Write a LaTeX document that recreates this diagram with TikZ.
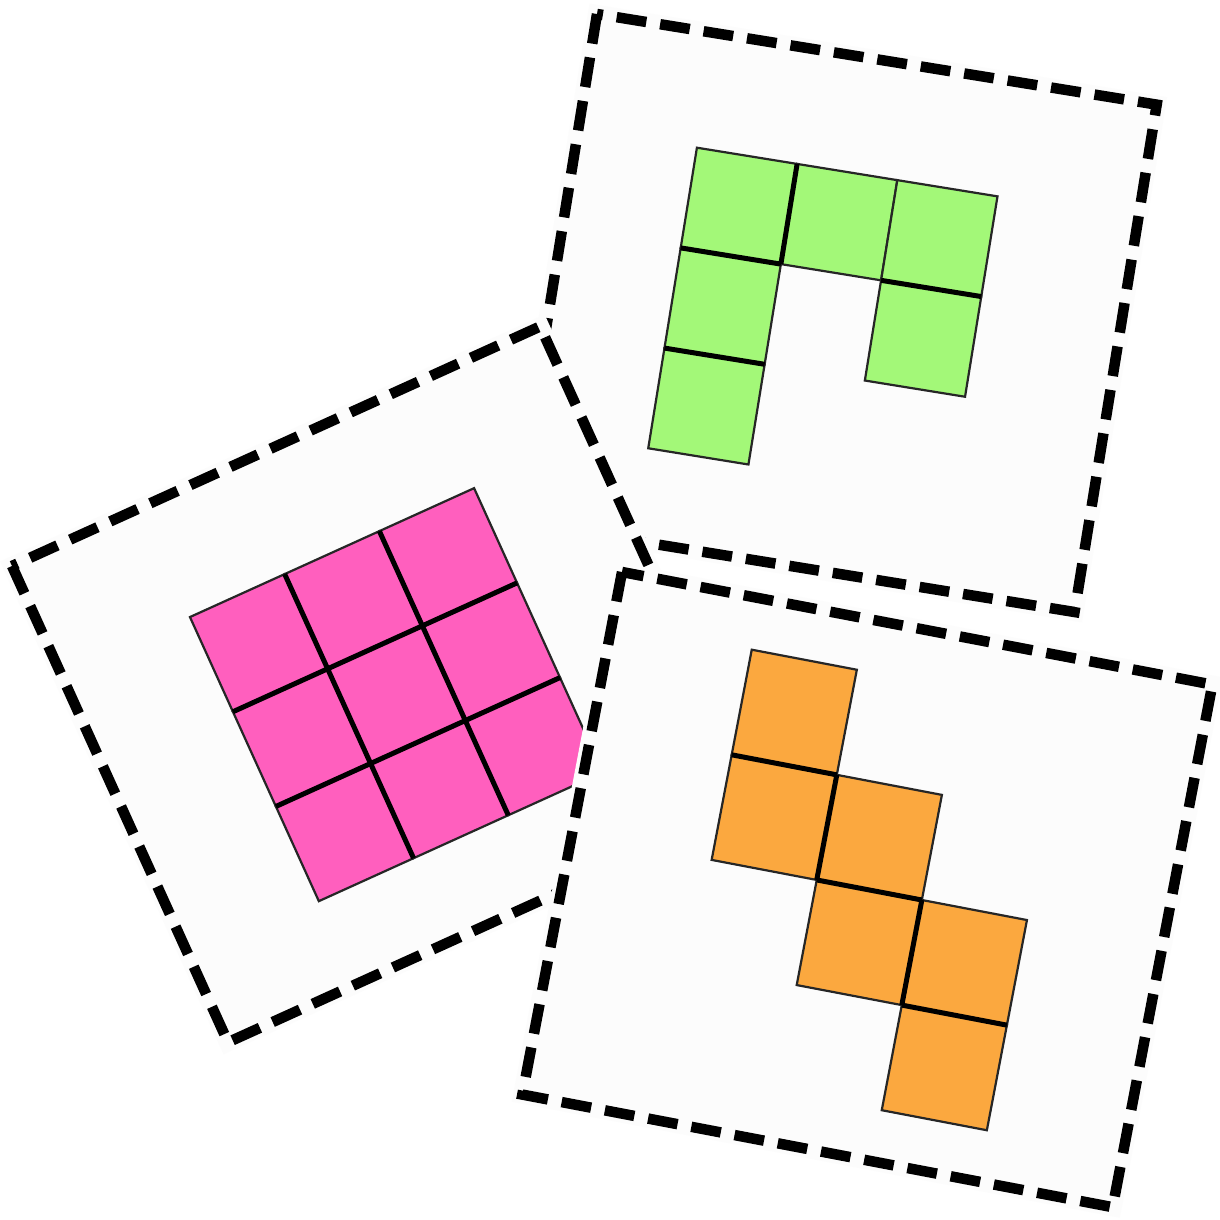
\documentclass[tikz,border=0pt]{standalone}
\definecolor{cardbg}{RGB}{252,252,252}
\definecolor{greenc}{RGB}{163,248,120}
\definecolor{pinkc}{RGB}{255,95,190}
\definecolor{orangec}{RGB}{251,168,63}
\tikzset{
  cardfill/.style={fill=cardbg},
  cardborder/.style={draw=black, line width=10.5pt, dash pattern=on 30pt off 14pt},
  cellsq/.style={draw=black!85, line width=2.2pt},
  seam/.style={draw=black, line width=5pt, line cap=butt},
}
\begin{document}
\begin{tikzpicture}[x=1pt,y=-1pt]
\useasboundingbox (0,0) rectangle (1220,1219);
\fill[white] (0,0) rectangle (1220,1219);

% green card
\begin{scope}[shift={(597,14)}, rotate=-9.2]
  \fill[cardfill] (-9,-9) rectangle (576,523);
  \draw[cardborder] (0,0) rectangle (567,514);
  \begin{scope}[shift={(120,116)}, x=101.5pt, y=-101.5pt]
    \foreach \c/\r in {0/0,1/0,2/0,0/1,2/1,0/2}
      \filldraw[fill=greenc, cellsq] (\c,\r) rectangle ++(1,1);
    \draw[seam] (1,0) -- (1,1);
    \draw[seam] (0,1) -- (1,1);
    \draw[seam] (0,2) -- (1,2);
    \draw[seam] (2,1) -- (3,1);
  \end{scope}
\end{scope}

% pink card
\begin{scope}[shift={(12,566)}, rotate=24.4]
  \fill[cardfill] (-9,-9) rectangle (589,532);
  \draw[cardborder] (0,0) rectangle (580,523);
  \begin{scope}[shift={(141,120)}, x=104pt, y=-104pt]
    \foreach \c in {0,1,2}
      \foreach \r in {0,1,2}
        \filldraw[fill=pinkc, cellsq] (\c,\r) rectangle ++(1,1);
    \draw[seam] (1,0) -- (1,3);
    \draw[seam] (2,0) -- (2,3);
    \draw[seam] (0,1) -- (3,1);
    \draw[seam] (0,2) -- (3,2);
  \end{scope}
\end{scope}

% orange card
\begin{scope}[shift={(622,572)}, rotate=-10.8]
  \fill[cardfill] (-9,-9) rectangle (610,541);
  \draw[cardborder] (0,0) rectangle (601,532);
  \begin{scope}[shift={(142,52)}, x=107pt, y=-107pt]
    \foreach \c/\r in {0/0,0/1,1/1,1/2,2/2,2/3}
      \filldraw[fill=orangec, cellsq] (\c,\r) rectangle ++(1,1);
    \draw[seam] (0,1) -- (1,1);
    \draw[seam] (1,1) -- (1,2);
    \draw[seam] (1,2) -- (2,2);
    \draw[seam] (2,2) -- (2,3);
    \draw[seam] (2,3) -- (3,3);
  \end{scope}
\end{scope}
\end{tikzpicture}
\end{document}
